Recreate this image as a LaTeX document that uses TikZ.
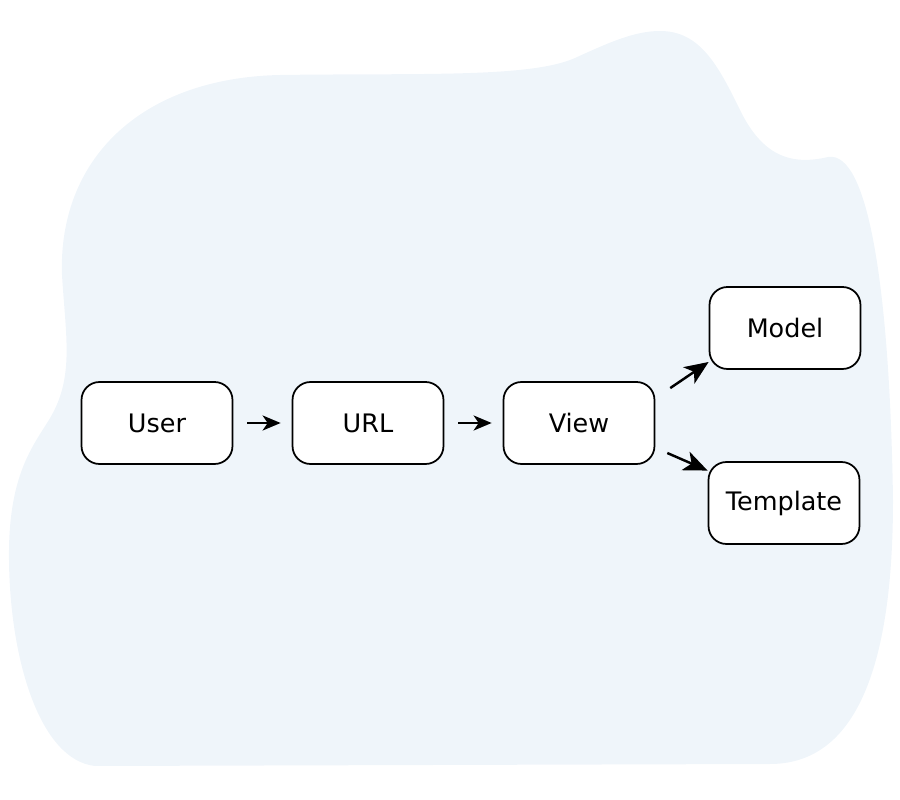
\documentclass[tikz,border=0pt]{standalone}
\usepackage{fontspec}
\setmainfont{DejaVu Sans}
\usetikzlibrary{arrows.meta}
\definecolor{blobblue}{HTML}{EFF5FA}
\begin{document}
\begin{tikzpicture}[x=0.02cm,y=-0.02cm,
  box/.style={draw, fill=white, line width=1pt, rounded corners=0.36cm,
    minimum width=3.02cm, minimum height=1.64cm, font=\fontsize{14.5}{17}\selectfont},
  flow/.style={line width=1.3pt, -{Stealth[length=0.36cm,width=0.3cm,inset=0.1cm]}},
  bigflow/.style={line width=1.4pt, -{Stealth[length=0.48cm,width=0.4cm,inset=0.13cm]}}]
\useasboundingbox (0,0) rectangle (900,800);
% background blob
\fill[blobblue] (62,275) .. controls (58,160) and (140,78) .. (280,75)
  .. controls (420,73) and (530,78) .. (575,58)
  .. controls (610,42) and (635,31) .. (660,31)
  .. controls (700,31) and (718,65) .. (740,110)
  .. controls (762,155) and (790,166) .. (828,157)
  .. controls (870,150) and (890,300) .. (893,500)
  .. controls (893,680) and (850,764) .. (770,764)
  -- (95,766)
  .. controls (40,760) and (10,660) .. (9,560)
  .. controls (8,480) and (30,450) .. (47,423)
  .. controls (75,380) and (66,340) .. (62,275) -- cycle;
\node[box] (user) at (157,423) {User};
\node[box] (url) at (368,423) {URL};
\node[box] (view) at (579,423) {View};
\node[box] (model) at (785,328) {Model};
\node[box] (template) at (784,503) {Template};
\path[draw,flow,shorten <=0.28cm,shorten >=0.22cm] (user) -- (url);
\path[draw,flow,shorten <=0.28cm,shorten >=0.22cm] (url) -- (view);
\path[draw,bigflow,shorten <=0.36cm] (view.18) -- (model.204);
\path[draw,bigflow,shorten <=0.26cm] (view.342) -- (template.157);
\end{tikzpicture}
\end{document}
